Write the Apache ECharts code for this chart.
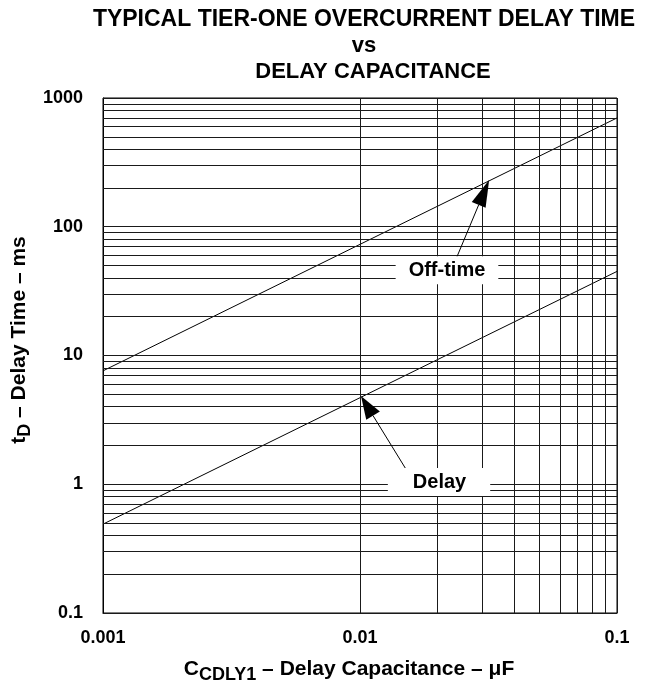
<!DOCTYPE html>
<html><head><meta charset="utf-8">
<script src="https://cdn.jsdelivr.net/npm/echarts@6/dist/echarts.min.js"></script>
<style>html,body{margin:0;padding:0;background:#fff}#c{width:645px;height:693px}</style>
</head><body><div id="c"></div>
<script>
// ---- data ----
const capacitance = [0.001, 0.01, 0.1];          // µF
const offTime     = [7.6, 73, 700];              // ms
const delayTime   = [0.49, 4.7, 45];             // ms
const xTickLabels = ['0.001', '0.01', '0.1'];
const yTickLabels = ['0.1', '1', '10', '100', '1000'];
const xDecades = [0.001, 0.01, 0.1];
const yDecades = [0.1, 1, 10, 100, 1000];
const minorMultipliers = [2, 3, 4, 5, 6, 7, 8, 9];
const titleLines = ['TYPICAL TIER-ONE OVERCURRENT DELAY TIME', 'vs', 'DELAY CAPACITANCE'];
const seriesNames = ['Off-time', 'Delay'];

const FONT = '"Liberation Sans", Arial, Helvetica, sans-serif';

function gridValues(decades) {
  const out = decades.slice();
  for (let i = 0; i < decades.length - 1; i++) {
    minorMultipliers.forEach(m => out.push(+(decades[i] * m).toPrecision(3)));
  }
  return out;
}
const xGrid = gridValues(xDecades);
const yGrid = gridValues(yDecades);

const chart = echarts.init(document.getElementById('c'), null, {renderer: 'canvas'});

const gridLineStyle = {color: '#1a1a1a', width: 1, type: 'solid'};

chart.setOption({
  animation: false,
  backgroundColor: '#fff',
  grid: {left: 103, top: 98, right: 28, bottom: 80, show: true, borderColor: '#000', borderWidth: 1, backgroundColor: 'transparent'},
  xAxis: {
    type: 'log', logBase: 10, min: xDecades[0], max: xDecades[xDecades.length - 1],
    axisLine: {show: true, lineStyle: {color: '#000', width: 1}},
    axisTick: {show: false},
    splitLine: {show: false},
    axisLabel: {
      margin: 16, color: '#000', fontFamily: FONT, fontWeight: 'bold', fontSize: 18,
      formatter: v => { const i = xDecades.findIndex(d => Math.abs(d - v) / d < 1e-6); return i >= 0 ? xTickLabels[i] : ''; }
    }
  },
  yAxis: {
    type: 'log', logBase: 10, min: yDecades[0], max: yDecades[yDecades.length - 1],
    axisLine: {show: true, lineStyle: {color: '#000', width: 1}},
    axisTick: {show: false},
    splitLine: {show: false},
    axisLabel: {
      margin: 20, color: '#000', fontFamily: FONT, fontWeight: 'bold', fontSize: 18,
      formatter: v => { const i = yDecades.findIndex(d => Math.abs(d - v) / d < 1e-6); return i >= 0 ? yTickLabels[i] : ''; }
    }
  },
  series: [
    {
      name: seriesNames[0], type: 'line', symbol: 'none', silent: true,
      lineStyle: {color: '#000', width: 1},
      data: capacitance.map((c, i) => [c, offTime[i]]),
      markLine: {
        silent: true, symbol: 'none', label: {show: false}, lineStyle: gridLineStyle,
        emphasis: {disabled: true},
        data: xGrid.map(v => ({xAxis: v})).concat(yGrid.map(v => ({yAxis: v})))
      },
      z: 3
    },
    {
      name: seriesNames[1], type: 'line', symbol: 'none', silent: true,
      lineStyle: {color: '#000', width: 1},
      data: capacitance.map((c, i) => [c, delayTime[i]]),
      z: 3
    }
  ]
});

// ---- annotations (labels + arrows) and titles ----
function px(p) { return chart.convertToPixel({gridIndex: 0}, p); }
function arrow(tail, tip, len, width) {
  const a = px(tail), b = px(tip);
  const dx = b[0] - a[0], dy = b[1] - a[1];
  const d = Math.hypot(dx, dy), ux = dx / d, uy = dy / d;
  const bx = b[0] - ux * len, by = b[1] - uy * len;
  const nx = -uy * width / 2, ny = ux * width / 2;
  return [
    {type: 'line', z: 50, shape: {x1: a[0], y1: a[1], x2: bx, y2: by}, style: {stroke: '#000', lineWidth: 1}},
    {type: 'polygon', z: 50, shape: {points: [[b[0], b[1]], [bx + nx, by + ny], [bx - nx, by - ny]]}, style: {fill: '#000'}}
  ];
}
function note(text, at, padL, padR) {
  const p = px(at);
  return {type: 'text', z: 60, x: p[0], y: p[1], style: {
    text, x: 0, y: 0, align: 'center', verticalAlign: 'middle',
    font: 'bold 20px ' + FONT, fill: '#000', backgroundColor: '#fff', padding: [4, padR, 4, padL]
  }};
}

const graphics = [];
graphics.push(...arrow([0.0238, 58], [0.0318, 231], 27, 15));
graphics.push(...arrow([0.01524, 1.27], [0.01009, 4.84], 23, 16));
graphics.push(note(seriesNames[0], [0.0218, 46], 13, 13));
graphics.push(note(seriesNames[1], [0.0203, 1.04], 25, 24));

const titleY = [20, 46, 72];
const titleX = [364, 364, 373];
const titleSize = [23, 22, 22];
titleLines.forEach((t, i) => graphics.push({
  type: 'text', x: titleX[i], y: titleY[i], style: {text: t, x: 0, y: 0, align: 'center', verticalAlign: 'middle', font: 'bold ' + titleSize[i] + 'px ' + FONT, fill: '#000'}
}));

// axis titles
graphics.push({
  type: 'text', x: 349, y: 669, style: {
    text: '{a|C}{b|CDLY1}{a| – Delay Capacitance – μF}', x: 0, y: 0, align: 'center', verticalAlign: 'middle',
    rich: {a: {font: 'bold 21px ' + FONT, fill: '#000'}, b: {font: 'bold 18px ' + FONT, fill: '#000', padding: [12, 0, 0, 0]}}
  }
});
graphics.push({
  type: 'text', x: 19, y: 340, rotation: Math.PI / 2, style: {
    text: '{a|t}{b|D}{a| – Delay Time – ms}', x: 0, y: 0, align: 'center', verticalAlign: 'middle',
    rich: {a: {font: 'bold 21px ' + FONT, fill: '#000'}, b: {font: 'bold 18px ' + FONT, fill: '#000', padding: [12, 0, 0, 0]}}
  }
});

chart.setOption({graphic: graphics});
</script>
</body></html>
